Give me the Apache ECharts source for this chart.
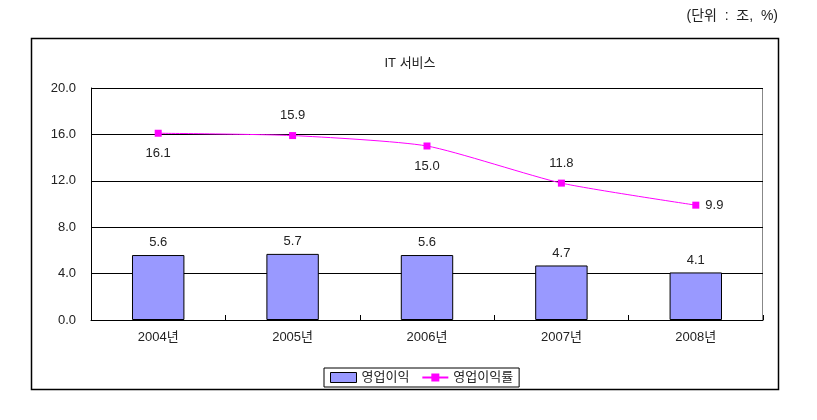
<!DOCTYPE html>
<html>
<head>
<meta charset="utf-8">
<script src="https://cdn.jsdelivr.net/npm/echarts@6/dist/echarts.min.js"></script>
<style>
html, body { margin: 0; padding: 0; background: #fff; }
#chart { width: 817px; height: 420px; }
</style>
</head>
<body>
<div id="chart"></div>
<script>
// 데이터
var years = ['2004년', '2005년', '2006년', '2007년', '2008년'];
var profit = [5.6, 5.7, 5.6, 4.7, 4.1];
var profitRate = [16.1, 15.9, 15.0, 11.8, 9.9];
var rateLabelPos = ['bottom', 'top', 'bottom', 'top', 'right'];

var font = '"Liberation Sans", "Noto Sans CJK KR", sans-serif';
var textColor = '#222';

var myChart = echarts.init(document.getElementById('chart'));
var option = {
  animation: false,
  textStyle: { fontFamily: font },
  title: {
    text: 'IT 서비스',
    left: 405,
    top: 52,
    textAlign: 'center',
    textStyle: { fontSize: 13, fontWeight: 'normal', color: textColor, fontFamily: font }
  },
  graphic: [
    {
      type: 'rect',
      shape: { x: 31.5, y: 38.5, width: 747, height: 351 },
      style: { fill: 'none', stroke: '#000', lineWidth: 1.5 },
      z: -1
    },
    {
      type: 'text',
      right: 39,
      top: 9,
      style: { text: '(단위  :  조,  %)', font: '14px ' + font, fill: textColor }
    },
    {
      // 플롯 영역 오른쪽/위 테두리
      type: 'rect',
      shape: { x: 91.5, y: 88.5, width: 671, height: 232 },
      style: { fill: 'none', stroke: '#888', lineWidth: 1 },
      z: 0
    }
  ],
  legend: {
    left: 324,
    top: 368,
    width: 199,
    padding: [3, 6, 3, 6],
    borderColor: '#000',
    borderWidth: 1,
    itemGap: 12,
    itemWidth: 26,
    itemHeight: 10,
    textStyle: { fontSize: 13, color: textColor, fontFamily: font },
    data: [
      { name: '영업이익', icon: 'rect', itemStyle: { borderColor: '#000', borderWidth: 1 } },
      { name: '영업이익률' }
    ]
  },
  grid: { left: 91, right: 54, top: 88, bottom: 100, containLabel: false },
  xAxis: {
    type: 'category',
    data: years,
    axisLine: { lineStyle: { color: '#000', width: 1 } },
    axisTick: { show: true, inside: true, length: 5, lineStyle: { color: '#000' } },
    axisLabel: { color: textColor, fontSize: 13, margin: 11 }
  },
  yAxis: {
    type: 'value',
    min: 0,
    max: 20,
    interval: 4,
    axisLine: { show: true, lineStyle: { color: '#000', width: 1 } },
    axisTick: { show: false },
    axisLabel: {
      color: textColor,
      fontSize: 13,
      margin: 15,
      formatter: function (v) { return v.toFixed(1); }
    },
    splitLine: { lineStyle: { color: '#000', width: 1 } }
  },
  series: [
    {
      name: '영업이익',
      type: 'bar',
      data: profit,
      barWidth: '39%',
      itemStyle: { color: '#9999FF', borderColor: '#000', borderWidth: 1 },
      label: {
        show: true,
        position: 'top',
        distance: 6,
        color: textColor,
        fontSize: 13,
        formatter: function (p) { return p.value.toFixed(1); }
      }
    },
    {
      name: '영업이익률',
      type: 'line',
      data: profitRate.map(function (v, i) {
        return {
          value: v,
          label: { position: rateLabelPos[i], distance: rateLabelPos[i] === 'right' ? 6 : 10 }
        };
      }),
      smooth: 0.2,
      symbol: 'rect',
      symbolSize: 7,
      lineStyle: { color: '#FF00FF', width: 1 },
      itemStyle: { color: '#FF00FF' },
      label: {
        show: true,
        color: textColor,
        fontSize: 13,
        formatter: function (p) { return p.value.toFixed(1); }
      },
      z: 3
    }
  ]
};
myChart.setOption(option, true);
</script>
</body>
</html>
